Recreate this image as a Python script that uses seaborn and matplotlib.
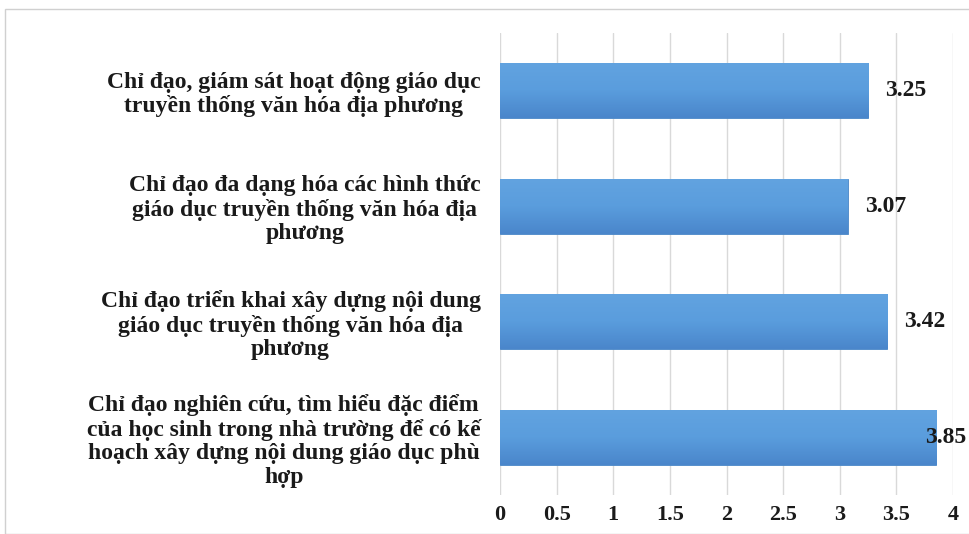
import matplotlib
matplotlib.use("Agg")
import matplotlib.pyplot as plt
import seaborn as sns
import pandas as pd
import numpy as np
from matplotlib.patches import Rectangle
from matplotlib.colors import LinearSegmentedColormap

categories = [
    "Chỉ đạo, giám sát hoạt động giáo dục\ntruyền thống văn hóa địa phương",
    "Chỉ đạo đa dạng hóa các hình thức\ngiáo dục truyền thống văn hóa địa\nphương",
    "Chỉ đạo triển khai xây dựng nội dung\ngiáo dục truyền thống văn hóa địa\nphương",
    "Chỉ đạo nghiên cứu, tìm hiểu đặc điểm\ncủa học sinh trong nhà trường để có kế\nhoạch xây dựng nội dung giáo dục phù\nhợp",
]
values = [3.25, 3.07, 3.42, 3.85]
xticks = [0, 0.5, 1, 1.5, 2, 2.5, 3, 3.5, 4]
xtick_labels = ["0", "0.5", "1", "1.5", "2", "2.5", "3", "3.5", "4"]

sns.set_theme(style="white")
plt.rcParams["font.family"] = ["Liberation Serif", "DejaVu Serif"]
plt.rcParams["font.weight"] = "bold"

df = pd.DataFrame({"cat": categories, "val": values})

fig = plt.figure(figsize=(9.69, 5.34), dpi=100)
ax = fig.add_axes([500/969, 1-495/534, 453/969, 462/534])

sns.barplot(data=df, y="cat", x="val", orient="h", color="#5396DA",
            width=0.48, ax=ax, saturation=1, edgecolor="#4A86C6", linewidth=0.6, zorder=3)

# vertical gradient fill clipped to each bar
grad_cmap = LinearSegmentedColormap.from_list(
    "g", ["#4A86CB", "#5A9DDD", "#62A3E0"])
grad = np.linspace(0, 1, 64).reshape(-1, 1)
for p in list(ax.patches):
    x0, y0 = p.get_x(), p.get_y()
    w, h = p.get_width(), p.get_height()
    im = ax.imshow(grad, cmap=grad_cmap, aspect="auto",
                   extent=(x0, x0 + w, y0 + h, y0), origin="lower", zorder=3.5)
    im.set_clip_path(p)

ax.set_xlim(0, 4)
ax.set_ylim(3.5, -0.5)
ax.set_xticks(xticks)
ax.set_xticklabels(xtick_labels, fontsize=16, fontweight="bold", color="#1a1a1a")
ax.set_yticks(range(len(categories)))
ax.set_yticklabels(categories, fontsize=17, fontweight="bold", color="#1a1a1a",
                   multialignment="center", linespacing=1.15)
ax.tick_params(axis="y", length=0, pad=14)
ax.tick_params(axis="x", length=0, pad=7)
ax.set_xlabel("")
ax.set_ylabel("")
ax.xaxis.grid(True, color="#d9d9d9", linewidth=1.0, zorder=0)
ax.yaxis.grid(False)
for s in ax.spines.values():
    s.set_visible(False)

for i, v in enumerate(values):
    xpos = min(v + 0.15, 3.75)
    ax.text(xpos, i, f"{v:.2f}", va="center", ha="left", fontsize=17,
            fontweight="bold", color="#1a1a1a", zorder=5, clip_on=False)

fig.patches.append(Rectangle((5/969, 0), 1, 1-9/534, transform=fig.transFigure,
                             fill=False, edgecolor="#d0d0d0", linewidth=1.0))

fig.savefig("out.png", dpi=100)
